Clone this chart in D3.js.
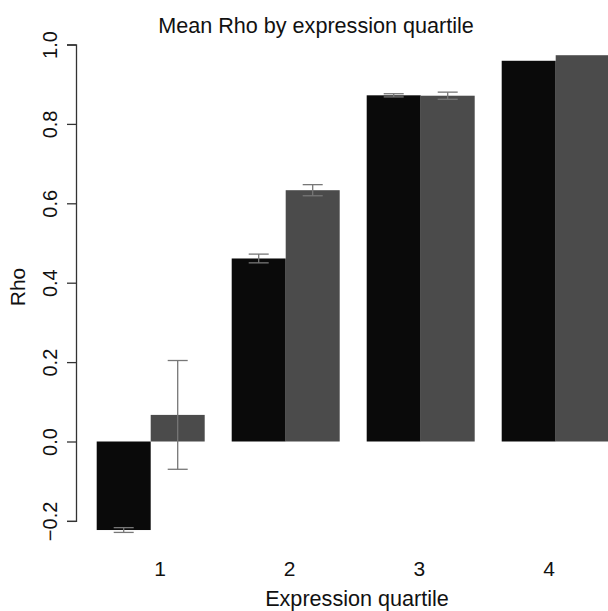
<!DOCTYPE html>
<html>
<head>
<meta charset="utf-8">
<script src="https://cdn.jsdelivr.net/npm/d3@7"></script>
<style>
  html, body { margin: 0; padding: 0; background: #fff; }
  svg { display: block; }
  text { font-family: "Liberation Sans", Arial, sans-serif; fill: #111; }
</style>
</head>
<body>
<script>
const categories = ["1", "2", "3", "4"];
const seriesNames = ["A", "B"];
const seriesA = [-0.223, 0.461, 0.872, 0.959];
const seriesB = [0.067, 0.633, 0.871, 0.973];
const errA = [0.006, 0.011, 0.004, 0];
const errB = [0.137, 0.014, 0.009, 0];
const yTicks = [-0.2, 0.0, 0.2, 0.4, 0.6, 0.8, 1.0];
const yTickLabels = ["\u22120.2", "0.0", "0.2", "0.4", "0.6", "0.8", "1.0"];
const title = "Mean Rho by expression quartile";
const xTitle = "Expression quartile";
const yTitle = "Rho";

const W = 608, H = 611;
const colors = { A: "#0a0a0a", B: "#4b4b4b" };

const svg = d3.select("body").append("svg").attr("width", W).attr("height", H);

const y = d3.scaleLinear().domain([-0.2, 1.0]).range([520.9, 44.5]);
const x0 = d3.scaleBand().domain(categories).range([96.7, 609.7]).paddingInner(0.2).paddingOuter(0);
const x1 = d3.scaleBand().domain(seriesNames).range([0, x0.bandwidth()]).padding(0);
const xLab = d3.scalePoint().domain(categories).range([160, 549]);

const rows = categories.map((c, i) => ({
  c,
  vals: [
    { s: "A", v: seriesA[i], e: errA[i] },
    { s: "B", v: seriesB[i], e: errB[i] }
  ]
}));

// Bars
const g = svg.append("g");
const groups = g.selectAll("g.grp").data(rows).join("g")
  .attr("transform", d => `translate(${x0(d.c)},0)`);
groups.selectAll("rect").data(d => d.vals).join("rect")
  .attr("x", d => x1(d.s))
  .attr("width", x1.bandwidth())
  .attr("y", d => y(Math.max(0, d.v)))
  .attr("height", d => Math.abs(y(d.v) - y(0)))
  .attr("fill", d => colors[d.s]);

// Error bars
const capHalf = 10;
groups.selectAll("g.err").data(d => d.vals.filter(v => v.e > 0)).join("g")
  .attr("class", "err")
  .each(function(d) {
    const cx = x1(d.s) + x1.bandwidth() / 2;
    const sel = d3.select(this);
    const lo = y(d.v - d.e), hi = y(d.v + d.e);
    sel.append("line").attr("x1", cx).attr("x2", cx).attr("y1", lo).attr("y2", hi);
    sel.append("line").attr("x1", cx - capHalf).attr("x2", cx + capHalf).attr("y1", lo).attr("y2", lo);
    sel.append("line").attr("x1", cx - capHalf).attr("x2", cx + capHalf).attr("y1", hi).attr("y2", hi);
  })
  .selectAll("line").attr("stroke", "#777").attr("stroke-width", 1.3);

// Y axis
const axisX = 76;
const yAxis = d3.axisLeft(y).tickValues(yTicks).tickSize(9)
  .tickFormat((d, i) => yTickLabels[i]);
const ag = svg.append("g").attr("transform", `translate(${axisX},0)`).call(yAxis);
ag.select(".domain").attr("stroke", "#333").attr("stroke-width", 1.3);
ag.selectAll(".tick line").attr("stroke", "#333").attr("stroke-width", 1.3);
ag.selectAll(".tick text")
  .attr("x", null).attr("dy", null)
  .attr("transform", "translate(-19,0) rotate(-90)")
  .attr("text-anchor", "middle")
  .style("font-size", "20px")
  .style("font-family", "'Liberation Sans', Arial, sans-serif")
  .attr("fill", "#111");

// X labels
svg.append("g").selectAll("text").data(categories).join("text")
  .attr("x", d => xLab(d))
  .attr("y", 575.5)
  .attr("text-anchor", "middle")
  .style("font-size", "21px")
  .text(d => d);

// Titles
svg.append("text").attr("x", 316).attr("y", 33).attr("text-anchor", "middle")
  .style("font-size", "21.6px").text(title);
svg.append("text").attr("x", 357).attr("y", 605.5).attr("text-anchor", "middle")
  .style("font-size", "21.6px").text(xTitle);
svg.append("text").attr("transform", "translate(25,287) rotate(-90)").attr("text-anchor", "middle")
  .style("font-size", "21px").text(yTitle);
</script>
</body>
</html>
